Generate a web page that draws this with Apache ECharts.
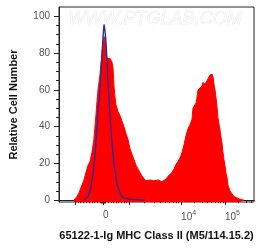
<!DOCTYPE html>
<html>
<head>
<meta charset="utf-8">
<script src="https://cdn.jsdelivr.net/npm/echarts@6/dist/echarts.min.js"></script>
<style>
  html, body { margin: 0; padding: 0; background: #fff; }
  #main { width: 259px; height: 251px; }
</style>
</head>
<body>
<div id="main"></div>
<script>
// histogram bins on display channel scale (0-1000)
var redChannel = [77, 82, 92, 103, 113, 128, 138, 149, 159, 169, 179, 190, 195, 200, 205, 210, 215, 221, 226, 231, 236, 241, 246, 251, 256, 262, 267, 272, 277, 282, 287, 292, 303, 313, 323, 333, 344, 354, 364, 374, 385, 395, 405, 415, 426, 436, 446, 456, 467, 477, 487, 497, 508, 518, 528, 538, 549, 559, 569, 579, 590, 600, 610, 621, 631, 641, 651, 662, 672, 682, 687, 692, 703, 708, 713, 723, 733, 738, 749, 759, 764, 774, 785, 790, 795, 800, 805, 810, 815, 821, 826, 831, 836, 841, 846, 851, 856, 862, 867, 877, 887, 897, 908, 918, 928, 949];
var redCount = [0, 0, 2, 4, 7, 11, 15, 19, 21, 26, 33, 47, 54, 60, 64, 68, 74, 80, 86, 89, 87, 81, 77, 76, 76, 77, 76, 75, 72, 62, 56, 52, 48, 46, 43, 40, 36, 33, 28, 25, 22, 19, 17, 15, 13, 12, 10.5, 10, 11, 10, 10.5, 10, 11, 11, 10, 10.5, 11.5, 13, 14, 15, 17, 19.5, 21, 23, 26, 30, 35, 39, 41, 44, 50, 50, 53, 56, 60, 61, 62, 64, 63, 64, 66, 68, 68.5, 67, 63, 60, 56, 51, 45, 41, 38, 34, 31, 26, 22, 19, 15, 12, 8, 5, 3.5, 2, 1.5, 1, 0.5, 0];

var blueChannel = [128, 138, 149, 159, 164, 169, 174, 179, 185, 190, 195, 200, 205, 210, 215, 221, 226, 231, 236, 241, 246, 251, 256, 262, 267, 272, 277, 282, 287, 292, 297, 303, 313, 323, 338, 364, 441];
var blueCount = [0, 1, 2, 5, 7, 11, 14, 19, 25, 32, 40, 48, 54, 61, 70, 80, 89, 95.5, 92, 86, 76, 65, 55, 45, 38, 31, 25, 20, 16, 12, 9, 7, 4, 2, 1, 0.5, 0];

// axis ticks (raw intensity)
var xMajorTicks = [-1000, 0, 1000, 1e4, 1e5];
var xLabelTicks = [0, 1e4, 1e5];
var xMinorTicks = [-900, -800, -700, -600, -500, -400, -300, -200, -100, -90, -80, -70, -60, -50, -40, -30, -20, -10,
  10, 20, 30, 40, 50, 60, 70, 80, 90, 100, 200, 300, 400, 500, 600, 700, 800, 900,
  2000, 3000, 4000, 5000, 6000, 7000, 8000, 9000, 20000, 30000, 40000, 50000, 60000, 70000, 80000, 90000,
  200000, 300000, 400000];
var yMajorTicks = [0, 20, 40, 60, 80, 100];
var yMinorTicks = [5, 10, 15, 25, 30, 35, 45, 50, 55, 65, 70, 75, 85, 90, 95];

// biex-like display transform: linear around zero, log above 10^3
var zeroCh = 226, decadeCh = [359, 626, 851, 1076];
function toChannel(v) {
  if (v >= 1000) {
    var d = Math.log10(v) - 3, i = Math.min(Math.floor(d), 2);
    return decadeCh[i] + (d - i) * (decadeCh[i + 1] - decadeCh[i]);
  }
  return v >= 0 ? zeroCh + v * 0.133 : zeroCh + v * 0.144;
}
function zip(a, b) { return a.map(function (v, i) { return [v, b[i]]; }); }

var labelCh = xLabelTicks.map(toChannel);
var font = '"Liberation Sans", Arial, sans-serif';

var chart = echarts.init(document.getElementById('main'));
chart.setOption({
  animation: false,
  textStyle: { fontFamily: font },
  grid: { left: 59, right: 5, top: 7, bottom: 49, show: true, borderColor: '#222', borderWidth: 1 },
  graphic: [{
    type: 'text', left: 68, top: 10, z: 0,
    style: { text: 'WWW.PTGLAB.COM', font: 'italic 18px ' + font, fill: '#fafafa', stroke: '#e2e2e2', lineWidth: 0.6 }
  }],
  xAxis: [{
    type: 'value', min: 0, max: 1000,
    name: '65122-1-Ig MHC Class II (M5/114.15.2)', nameLocation: 'middle', nameGap: 28,
    nameTextStyle: { fontSize: 11, fontWeight: 'bold', color: '#111' },
    axisLine: { lineStyle: { color: '#222', width: 1 } },
    splitLine: { show: false },
    axisTick: { customValues: xMajorTicks.map(toChannel), length: 5, lineStyle: { color: '#222' } },
    axisLabel: {
      customValues: labelCh, align: 'left', margin: 8, color: '#555', fontSize: 10,
      formatter: function (val) {
        var best = 0;
        labelCh.forEach(function (c, i) { if (Math.abs(c - val) < Math.abs(labelCh[best] - val)) best = i; });
        var t = xLabelTicks[best];
        if (t === 0) return '{b|0}';
        return '{b|10}{s|' + Math.round(Math.log10(t)) + '}';
      },
      rich: {
        b: { fontSize: 10, color: '#555' },
        s: { fontSize: 7, color: '#555', padding: [0, 0, 7, 0] }
      }
    }
  }, {
    type: 'value', min: 0, max: 1000, position: 'bottom',
    axisLine: { show: false }, splitLine: { show: false }, axisLabel: { show: false },
    axisTick: { customValues: xMinorTicks.map(toChannel), length: 3, lineStyle: { color: '#222' } }
  }],
  yAxis: [{
    type: 'value', min: -1, max: 105,
    name: 'Relative Cell Number', nameLocation: 'middle', nameGap: 40,
    nameTextStyle: { fontSize: 11, fontWeight: 'bold', color: '#111' },
    axisLine: { show: true, lineStyle: { color: '#222', width: 1 } },
    splitLine: { show: false },
    axisTick: { show: true, customValues: yMajorTicks, length: 5, lineStyle: { color: '#222' } },
    axisLabel: { customValues: yMajorTicks, margin: 9, color: '#555', fontSize: 10 }
  }, {
    type: 'value', min: -1, max: 105, position: 'left',
    axisLine: { show: false }, splitLine: { show: false }, axisLabel: { show: false },
    axisTick: { show: true, customValues: yMinorTicks, length: 3, lineStyle: { color: '#222' } }
  }],
  series: [{
    type: 'line', xAxisIndex: 0, yAxisIndex: 0, data: zip(redChannel, redCount),
    showSymbol: false, symbol: 'none', z: 2,
    lineStyle: { color: '#ff0000', width: 1 },
    areaStyle: { color: '#ff0000', opacity: 1, origin: 'start' }
  }, {
    type: 'line', xAxisIndex: 0, yAxisIndex: 0, data: zip(blueChannel, blueCount),
    showSymbol: false, symbol: 'none', z: 3,
    lineStyle: { color: '#2d2d96', width: 1.4 }
  }]
});
</script>
</body>
</html>
